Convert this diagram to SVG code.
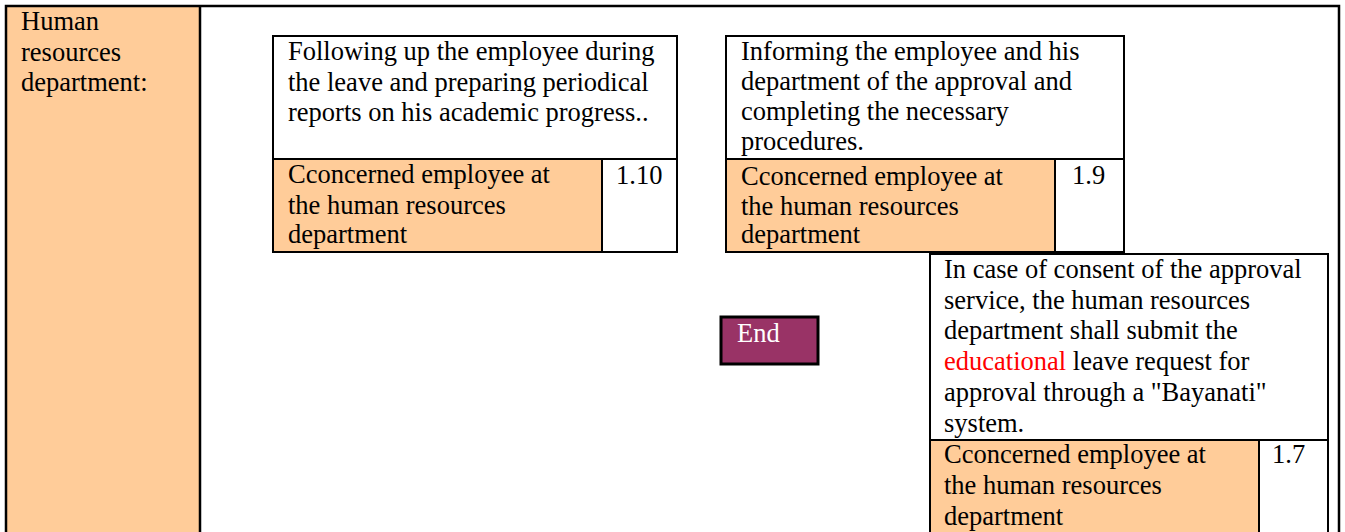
<svg xmlns="http://www.w3.org/2000/svg" width="1345" height="532" viewBox="0 0 1345 532">
<style>
  text { font-family: "Liberation Serif", "Times New Roman", serif; font-size: 26.5px; fill: #000; }
  .frame { fill: none; stroke: #000; stroke-width: 2.5; }
  .box { fill: #fff; stroke: #000; stroke-width: 2; }
  .role { fill: #FFCC99; stroke: none; }
  .ln { stroke: #000; stroke-width: 2; fill: none; }
  .red { fill: #FF0000; }
  .endbox { fill: #993366; stroke: #000; stroke-width: 3; }
  .endtxt { fill: #fff; }
</style>
<rect x="0" y="0" width="1345" height="532" fill="#fff"/>
<g id="lane">
  <rect x="6" y="6" width="194" height="530" class="role"/>
  <path class="frame" d="M6,540 V6 H1339 V540 M200,6 V540"/>
  <text x="21" y="30">Human</text>
  <text x="21" y="61">resources</text>
  <text x="21" y="91">department:</text>
</g>
<g id="connectors"></g>
<g id="step-1-10">
  <rect x="273" y="36" width="404" height="216" class="box"/>
  <rect x="273" y="159" width="329" height="93" class="role"/>
  <path class="ln" d="M273,159 H677 M602,159 V252"/>
  <rect x="273" y="36" width="404" height="216" class="ln"/>
  <text x="288" y="60">Following up the employee during</text>
  <text x="288" y="91">the leave and preparing periodical</text>
  <text x="288" y="121">reports on his academic progress..</text>
  <text x="288" y="183">Cconcerned employee at</text>
  <text x="288" y="214">the human resources</text>
  <text x="288" y="243">department</text>
  <text x="616" y="184">1.10</text>
</g>
<g id="step-1-9">
  <rect x="726" y="36" width="398" height="216" class="box"/>
  <rect x="726" y="159" width="329" height="93" class="role"/>
  <path class="ln" d="M726,159 H1124 M1055,159 V252"/>
  <rect x="726" y="36" width="398" height="216" class="ln"/>
  <text x="741" y="60">Informing the employee and his</text>
  <text x="741" y="90">department of the approval and</text>
  <text x="741" y="120">completing the necessary</text>
  <text x="741" y="150">procedures.</text>
  <text x="741" y="185">Cconcerned employee at</text>
  <text x="741" y="215">the human resources</text>
  <text x="741" y="243">department</text>
  <text x="1072" y="184">1.9</text>
</g>
<g id="end">
  <rect x="721" y="317" width="97" height="47" class="endbox"/>
  <text x="737" y="342" class="endtxt">End</text>
</g>
<g id="step-1-7">
  <rect x="930" y="254" width="398" height="290" class="box"/>
  <rect x="930" y="440" width="329" height="100" class="role"/>
  <path class="ln" d="M930,440 H1328 M1259,440 V540"/>
  <rect x="930" y="254" width="398" height="290" class="ln"/>
  <text x="944" y="278">In case of consent of the approval</text>
  <text x="944" y="309">service, the human resources</text>
  <text x="944" y="339">department shall submit the</text>
  <text x="944" y="370"><tspan class="red">educational</tspan> leave request for</text>
  <text x="944" y="401">approval through a "Bayanati"</text>
  <text x="944" y="432">system.</text>
  <text x="944" y="463">Cconcerned employee at</text>
  <text x="944" y="494">the human resources</text>
  <text x="944" y="525">department</text>
  <text x="1272" y="463">1.7</text>
</g>
</svg>
